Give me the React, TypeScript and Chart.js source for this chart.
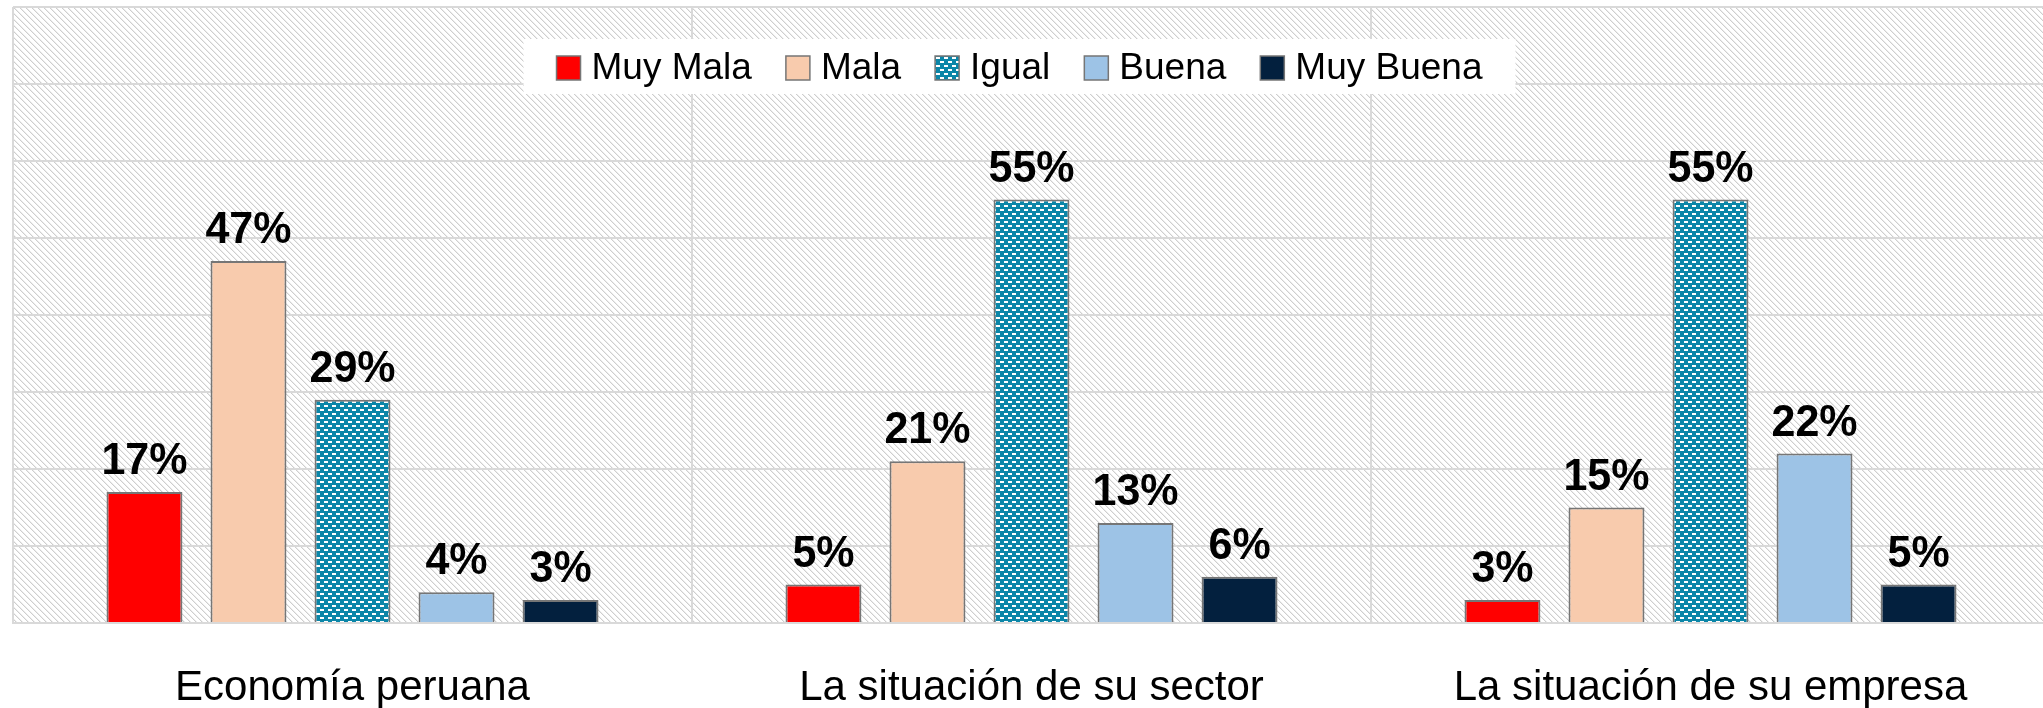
import React, { useEffect, useRef } from 'react';
import { Chart, registerables } from 'chart.js';

Chart.register(...registerables);

const categories = ['Economía peruana', 'La situación de su sector', 'La situación de su empresa'];
const seriesNames = ['Muy Mala', 'Mala', 'Igual', 'Buena', 'Muy Buena'];
const muyMala = [17, 5, 3];
const mala = [47, 21, 15];
const igual = [29, 55, 55];
const buena = [4, 13, 22];
const muyBuena = [3, 6, 5];
const yMax = 80;
const yStep = 10;

const FONT = '"Liberation Sans", Arial, Helvetica, sans-serif';

function makeHatch(): CanvasPattern | string {
  const n = 6;
  const c = document.createElement('canvas');
  c.width = n;
  c.height = n;
  const g = c.getContext('2d');
  if (!g) return '#fff';
  g.fillStyle = '#ffffff';
  g.fillRect(0, 0, n, n);
  for (let i = 0; i < n; i++) {
    g.fillStyle = '#cecece';
    g.fillRect(i, i, 1, 1);
    g.fillStyle = '#ededed';
    g.fillRect((i + 1) % n, i, 1, 1);
  }
  return g.createPattern(c, 'repeat') || '#fff';
}

function makeIgual(): CanvasPattern | string {
  const c = document.createElement('canvas');
  c.width = 8;
  c.height = 8;
  const g = c.getContext('2d');
  if (!g) return '#0B86A8';
  g.fillStyle = '#0B86A8';
  g.fillRect(0, 0, 8, 8);
  g.fillStyle = '#ffffff';
  g.fillRect(0, 1, 4, 2);
  g.fillRect(4, 5, 4, 2);
  return g.createPattern(c, 'repeat') || '#0B86A8';
}

export default function App() {
  const ref = useRef<HTMLCanvasElement | null>(null);

  useEffect(() => {
    document.body.style.margin = '0';
    const canvas = ref.current;
    if (!canvas) return;
    const hatch = makeHatch();
    const igualFill = makeIgual();
    const colors: any[] = ['#FF0000', '#F8CBAD', igualFill, '#9DC3E6', '#03203E'];
    const values = [muyMala, mala, igual, buena, muyBuena];

    const bgPlugin = {
      id: 'bgHatch',
      beforeDraw(chart: any) {
        const { ctx, chartArea: ca } = chart;
        ctx.save();
        ctx.fillStyle = '#ffffff';
        ctx.fillRect(0, 0, chart.width, chart.height);
        ctx.fillStyle = hatch;
        ctx.fillRect(ca.left, ca.top, ca.right - ca.left, ca.bottom - ca.top);
        ctx.restore();
      },
    };

    const overlayPlugin = {
      id: 'overlay',
      afterDatasetsDraw(chart: any) {
        const { ctx, chartArea: ca } = chart;
        ctx.save();
        // data labels
        ctx.fillStyle = '#000';
        ctx.font = `bold 43px ${FONT}`;
        ctx.textAlign = 'center';
        ctx.textBaseline = 'alphabetic';
        chart.data.datasets.forEach((ds: any, i: number) => {
          const meta = chart.getDatasetMeta(i);
          meta.data.forEach((bar: any, j: number) => {
            ctx.save();
            ctx.translate(bar.x, bar.y - 18);
            ctx.scale(1, 1.05);
            ctx.fillText(`${Math.round(ds.data[j])}%`, 0, 0);
            ctx.restore();
          });
        });
        // category labels
        const xs = chart.scales.x;
        ctx.font = `42px ${FONT}`;
        categories.forEach((c, i) => {
          ctx.fillText(c, xs.getPixelForValue(i), 700);
        });
        // legend
        ctx.font = `37px ${FONT}`;
        ctx.textAlign = 'left';
        const sw = 24;
        const swGap = 11;
        const itemGap = 34;
        const padX = 33;
        const widths = seriesNames.map((n) => ctx.measureText(n).width);
        const inner = widths.reduce((a, w) => a + sw + swGap + w, 0) + itemGap * (seriesNames.length - 1);
        const boxW = inner + padX * 2;
        const cx = (ca.left + ca.right) / 2 - 12;
        const boxL = cx - boxW / 2;
        const boxT = ca.top + 32;
        const boxH = 55;
        ctx.fillStyle = '#ffffff';
        ctx.fillRect(boxL, boxT, boxW, boxH);
        let x = boxL + padX;
        const base = boxT + 40;
        seriesNames.forEach((n, i) => {
          ctx.fillStyle = colors[i];
          ctx.fillRect(x, base - 23, sw, sw);
          ctx.strokeStyle = '#767676';
          ctx.lineWidth = 1.5;
          ctx.strokeRect(x, base - 23, sw, sw);
          ctx.fillStyle = '#000';
          ctx.fillText(n, x + sw + swGap, base);
          x += sw + swGap + widths[i] + itemGap;
        });
        ctx.restore();
      },
    };

    const chart = new Chart(canvas, {
      type: 'bar',
      data: {
        labels: categories,
        datasets: seriesNames.map((n, i) => ({
          label: n,
          data: values[i],
          backgroundColor: colors[i],
          borderColor: '#767676',
          borderWidth: 2,
          categoryPercentage: 0.766,
          barPercentage: 0.73,
        })),
      },
      options: {
        responsive: false,
        animation: false,
        devicePixelRatio: 1,
        layout: { padding: { left: 13, top: 7, right: 0, bottom: 85 } },
        plugins: {
          legend: { display: false },
          tooltip: { enabled: false },
        },
        scales: {
          x: {
            grid: { color: '#d9d9d9', lineWidth: 2, drawTicks: false, offset: true },
            border: { display: true, color: '#d9d9d9', width: 2 },
            ticks: { display: false },
          },
          y: {
            min: 0,
            max: yMax,
            ticks: { display: false, stepSize: yStep },
            grid: { color: '#d9d9d9', lineWidth: 2, drawTicks: false },
            border: { display: false },
          },
        },
      },
      plugins: [bgPlugin, overlayPlugin],
    });
    return () => chart.destroy();
  }, []);

  return (
    <div style={{ width: 2043, height: 708, overflow: 'hidden' }}>
      <canvas ref={ref} width={2050} height={708} style={{ display: 'block' }} />
    </div>
  );
}
